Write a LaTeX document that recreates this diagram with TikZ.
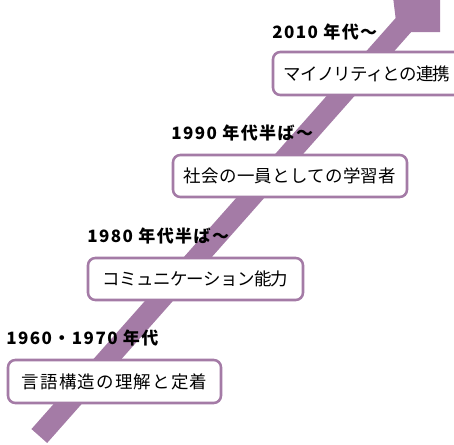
\documentclass[tikz,border=0pt]{standalone}
\usepackage{fontspec}
\setmainfont{Noto Sans CJK JP}
\definecolor{apurple}{RGB}{164,123,166}
\newcommand{\boxfont}{\fontsize{13.1pt}{15pt}\selectfont}
\newcommand{\yearfont}{\fontsize{12.75pt}{15pt}\selectfont\bfseries\addfontfeature{LetterSpace=8.5}}
\begin{document}
\begin{tikzpicture}[x=0.75pt,y=-0.75pt,
  box/.style={draw=apurple, line width=1.9pt, rounded corners=5.5pt, fill=white, inner sep=0pt, font=\boxfont},
  yearlabel/.style={anchor=west, inner sep=0pt, font=\yearfont}]
\useasboundingbox (0,0) rectangle (454,444);
\clip (0,0) rectangle (454,444);
% rising arrow
\fill[apurple] (47.15,442.96) -- (411.2,32) -- (440,32) -- (440,-16.3) -- (392.1,-10.5) -- (395.6,18.1) -- (31.45,429.04) -- cycle;
% boxes
\node[box, minimum width=141pt, minimum height=32.25pt] (b1) at (367,73.5) {\addfontfeature{LetterSpace=-4.3}マイノリティとの連携};
\node[box, minimum width=175.5pt, minimum height=31.5pt] (b2) at (290,176) {\addfontfeature{LetterSpace=1.7}社会の一員としての学習者};
\node[box, minimum width=161.25pt, minimum height=31.5pt] (b3) at (195.5,279) {\addfontfeature{LetterSpace=-3.4}コミュニケーション能力};
\node[box, minimum width=159.75pt, minimum height=32.25pt] (b4) at (114.5,381.5) {\addfontfeature{LetterSpace=6.9}言語構造の理解と定着};
% period labels
\node[yearlabel] (y1) at (272,32) {2010 年代〜};
\node[yearlabel] (y2) at (171,133) {1990 年代半ば〜};
\node[yearlabel] (y3) at (87,236) {1980 年代半ば〜};
\node[yearlabel] (y4) at (6,338) {1960・1970 年代};
\end{tikzpicture}
\end{document}
